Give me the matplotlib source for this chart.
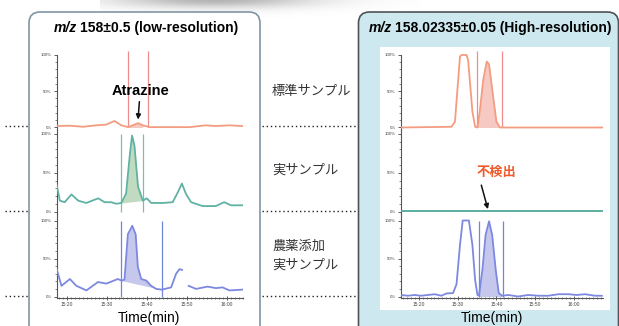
import numpy as np
import matplotlib
matplotlib.use('agg')
import matplotlib.pyplot as plt
from matplotlib.patches import FancyBboxPatch, Rectangle
from matplotlib.ticker import MultipleLocator, FixedLocator

W, H = 619, 326
LATIN = ['Liberation Sans', 'DejaVu Sans']
JP = ['Noto Sans CJK JP', 'DejaVu Sans']

# time axis: minutes after 15:00
tick_minutes = [20, 30, 40, 50, 60]
tick_labels = ['15:20', '15:30', '15:40', '15:50', '16:00']

# m/z 158 +/- 0.5 (low resolution), intensity in %
lo_std_t = [17.4, 20.7, 24.0, 27.3, 29.8, 31.9, 33.6, 35.3, 36.9, 37.8, 39.0,
            40.7, 44.0, 50.7, 54.8, 57.3, 60.7, 63.9]
lo_std_y = [2, 2.5, 1, 3, 4, 9, 3, 0.5, 4, 6, 3, 0.5, 0.5, 0.5, 3, 2, 3, 2]
lo_std_win = (35.3, 40.4)

lo_real_t = [17.4, 18.2, 19.4, 21.1, 22.8, 24.8, 27.8, 29.4, 31.1, 32.3, 33.6,
             34.8, 35.7, 36.3, 36.9, 37.8, 39.0, 40.0, 41.1, 44.0, 46.5, 47.8,
             48.8, 49.8, 51.1, 54.0, 57.3, 59.4, 61.1, 63.9]
lo_real_y = [34, 14, 12, 22, 14, 11, 17, 12, 12, 10, 11, 23, 71, 98, 85, 32, 14,
             17, 11, 11, 12, 25, 36, 23, 12, 7, 7, 12, 8, 8]
lo_real_win = (33.6, 39.0)

lo_spk_t = [17.4, 18.6, 20.7, 22.35, 24.85, 27.75, 29.85, 32.75, 33.6, 34.4,
            35.25, 36.35, 37.2, 37.75, 38.6, 39.85, 41.1, 42.35, 43.75, 46.1,
            47.35, 48.2, 48.85, np.nan, 50.5, 52.35, 55.25, 57.35, 59.0, 60.7,
            63.9]
lo_spk_y = [36, 14, 23, 14, 8, 19, 17, 23, 21, 22, 82, 93, 82, 39, 23, 21, 14,
            10, 9, 12, 30, 36, 35, np.nan, 14, 10, 13, 11, 12, 8, 9]
lo_spk_win = (33.6, 43.75)

# m/z 158.02335 +/- 0.05 (high resolution)
hi_std_t = [15.3, 28.4, 29.3, 30.6, 31.0, 32.3, 32.7, 33.8, 34.5, 35.1, 35.7,
            36.6, 37.5, 38.1, 38.9, 40.0, 40.9, 67.5]
hi_std_y = [0, 1, 8, 98, 100, 100, 93, 22, 1, 0, 22, 66, 91, 87, 53, 8, 0, 0]
hi_std_win = (35.1, 41.5)

hi_real_t = [15.3, 67.5]
hi_real_y = [0.5, 0.5]

hi_spk_t = [15.3, 17.2, 18.9, 20.6, 22.3, 24.1, 25.8, 27.1, 28.8, 29.7, 30.6,
            31.3, 32.9, 33.8, 34.5, 35.1, 35.5, 36.4, 37.2, 38.1, 38.9, 39.8,
            40.6, 41.5, 43.1, 45.6, 48.2, 50.8, 53.4, 56.0, 58.6, 60.7, 62.9,
            65.4, 67.2]
hi_spk_y = [2, 1, 2, 1, 2, 3, 1, 4, 4.5, 16, 68, 100, 100, 68, 22, 2, 1, 36,
            81, 99, 81, 36, 4.5, 1, 2, 0, 2, 1, 1, 3, 3, 2, 3, 1, 1]
hi_spk_win = (35.5, 41.8)

row_names = ['標準サンプル', '実サンプル', '農薬添加\n実サンプル']

SALMON = dict(line='#f59c80', vline='#f08c8c', fill='#f7c4bd')
GREEN = dict(line='#5fb2a4', vline='#7cc0a2', fill='#bad8ba')
BLUE = dict(line='#7d89e0', vline='#6f86dd', fill='#bfc1ec')

# pixel rows: (axes top, axes bottom, y of 100 %, y of 0 %)
ROWS = [(50, 130, 55, 127.5), (130, 214, 134, 211.5), (214, 298, 220.5, 296.5)]

fig = plt.figure(figsize=(W / 100, H / 100), dpi=100)
bg = fig.add_axes([0, 0, 1, 1], zorder=0)
bg.set_xlim(0, W)
bg.set_ylim(H, 0)
bg.axis('off')

# soft shadow at the top edge
gx, gy = np.meshgrid(np.linspace(100, 420, 320), np.linspace(-15, 25, 40))
shade = np.zeros(gx.shape + (4,))
shade[..., :3] = 0.5
shade[..., 3] = 0.6 * np.exp(-((gx - 215) / 100) ** 2 - ((gy + 1) / 9) ** 2)
bg.imshow(shade, extent=(100, 420, 25, -15), aspect='auto', zorder=0)
bg.set_xlim(0, W)
bg.set_ylim(H, 0)

bg.add_patch(FancyBboxPatch((29, 12), 231, 330,
                            boxstyle='round,pad=0,rounding_size=11',
                            fc='white', ec='#7f96a3', lw=1.2, zorder=1))
bg.add_patch(FancyBboxPatch((358.5, 12), 260, 330,
                            boxstyle='round,pad=0,rounding_size=11',
                            fc='#cde8ef', ec='#4f5355', lw=1.2, zorder=1))
bg.add_patch(Rectangle((380, 47), 230, 263, fc='white', ec='none', zorder=2))

# dotted separators between the rows
for yy in (126, 211, 296):
    bg.plot([5, 30], [yy, yy], color='#222', lw=1.0, ls=(0, (1, 2)), zorder=3)
    bg.plot([262, 358], [yy, yy], color='#222', lw=1.0, ls=(0, (1, 2)), zorder=3)

bg.text(272, 91, row_names[0], fontsize=9.5, family=JP, color='#333',
        va='center', ha='left', zorder=3)
bg.text(272, 170, row_names[1], fontsize=9.5, family=JP, color='#333',
        va='center', ha='left', zorder=3)
bg.text(272, 256, row_names[2], fontsize=9.5, family=JP, color='#333',
        va='center', ha='left', linespacing=1.55, zorder=3)


def title(xc, y, rest, size):
    renderer = fig.canvas.get_renderer()
    a = bg.text(0, y, 'm/z', fontsize=size, family=LATIN, weight='bold',
                style='italic', va='center', ha='left', zorder=3)
    b = bg.text(0, y, rest, fontsize=size, family=LATIN, weight='bold',
                va='center', ha='left', zorder=3)
    gap = size * 0.35
    wa = a.get_window_extent(renderer).width
    wb = b.get_window_extent(renderer).width
    x0 = xc - (wa + gap + wb) / 2
    a.set_x(x0)
    b.set_x(x0 + wa + gap)


title(146, 28, '158±0.5 (low-resolution)', 10)
title(490, 28, '158.02335±0.05 (High-resolution)', 10)
bg.text(149, 318, 'Time(min)', fontsize=10, family=LATIN, ha='center',
        va='center', zorder=3)
bg.text(492, 318, 'Time(min)', fontsize=10, family=LATIN, ha='center',
        va='center', zorder=3)


def trace_axes(x0, x1, row, xlim, last):
    top, bot, y100, y0 = ROWS[row]
    ax = fig.add_axes([x0 / W, 1 - bot / H, (x1 - x0) / W, (bot - top) / H],
                      zorder=2)
    ax.patch.set_alpha(0)
    per = (y0 - y100) / 100
    lo = -(bot - y0) / per
    hi = 100 + (y100 - top) / per
    ax.set_xlim(*xlim)
    ax.set_ylim(lo, hi)
    for s in ('top', 'right'):
        ax.spines[s].set_visible(False)
    ax.spines['left'].set_color('#555')
    ax.spines['left'].set_linewidth(0.8)
    if row == 0:
        ax.spines['left'].set_bounds(lo, 100)
    ax.yaxis.set_major_locator(FixedLocator([0, 50, 100]))
    ax.yaxis.set_minor_locator(MultipleLocator(10))
    ax.set_yticklabels(['0%', '50%', '100%'])
    ax.tick_params(axis='y', which='major', length=2.5, width=0.6, pad=1,
                   labelsize=3.2, colors='#444')
    ax.tick_params(axis='y', which='minor', length=1.3, width=0.5, colors='#555')
    if last:
        ax.spines['bottom'].set_color('#555')
        ax.spines['bottom'].set_linewidth(0.8)
        ax.spines['bottom'].set_bounds(xlim[0], xlim[1])
        ax.xaxis.set_major_locator(FixedLocator(tick_minutes))
        ax.set_xticklabels(tick_labels)
        ax.xaxis.set_minor_locator(MultipleLocator(1))
        ax.tick_params(axis='x', which='major', length=2.5, width=0.6, pad=1.5,
                       labelsize=3.5, colors='#444', direction='inout')
        ax.tick_params(axis='x', which='minor', length=1.5, width=0.5,
                       colors='#555', direction='inout')
    else:
        ax.spines['bottom'].set_visible(False)
        ax.set_xticks([])
    for lab in ax.get_xticklabels() + ax.get_yticklabels():
        lab.set_family(LATIN)
    return ax


def draw(ax, t, y, pal, win=None, vtop=100, baseline='zero'):
    t = np.asarray(t, float)
    y = np.asarray(y, float)
    if win is not None:
        m = (t >= win[0] - 1e-6) & (t <= win[1] + 1e-6)
        if baseline == 'zero':
            base = np.zeros_like(y)
        else:
            ts, te = t[m][0], t[m][-1]
            ys, ye = y[m][0], y[m][-1]
            base = ys + (ye - ys) * (t - ts) / (te - ts)
        ax.fill_between(t, base, y, where=m, color=pal['fill'], lw=0,
                        alpha=0.9, zorder=1)
        ax.vlines(win, 0, vtop, color=pal['vline'], lw=0.9, zorder=2)
    ax.plot(t, y, color=pal['line'], lw=1.3, solid_joinstyle='round', zorder=3)


LX = (56.7, 242.5, (17.4, 64.0))
RX = (400.7, 603, (15.3, 67.5))

a = trace_axes(LX[0], LX[1], 0, LX[2], False)
draw(a, lo_std_t, lo_std_y, SALMON, lo_std_win, vtop=106)
a.annotate('Atrazine', xy=(37.8, 11), xytext=(38.35, 51),
           fontsize=10.5, family=LATIN, weight='bold', ha='center', va='center',
           arrowprops=dict(arrowstyle='-|>', color='#111', lw=1.1,
                           mutation_scale=7, shrinkA=1, shrinkB=0))

a = trace_axes(LX[0], LX[1], 1, LX[2], False)
draw(a, lo_real_t, lo_real_y, GREEN, lo_real_win, vtop=100, baseline='line')

a = trace_axes(LX[0], LX[1], 2, LX[2], True)
draw(a, lo_spk_t, lo_spk_y, BLUE, lo_spk_win, vtop=99, baseline='line')

a = trace_axes(RX[0], RX[1], 0, RX[2], False)
draw(a, hi_std_t, hi_std_y, SALMON, hi_std_win, vtop=106)

a = trace_axes(RX[0], RX[1], 1, RX[2], False)
draw(a, hi_real_t, hi_real_y, dict(line='#4fa998'))
a.text(39.9, 51, '不検出', fontsize=9.5, family=JP, weight='bold',
       color='#ef5a2a', ha='center', va='center')
a.annotate('', xy=(37.8, 3), xytext=(36.1, 34),
           arrowprops=dict(arrowstyle='-|>', color='#111', lw=1.1,
                           mutation_scale=7, shrinkA=0, shrinkB=0))

a = trace_axes(RX[0], RX[1], 2, RX[2], True)
draw(a, hi_spk_t, hi_spk_y, BLUE, hi_spk_win, vtop=99)

fig.savefig('out.png', dpi=100)
